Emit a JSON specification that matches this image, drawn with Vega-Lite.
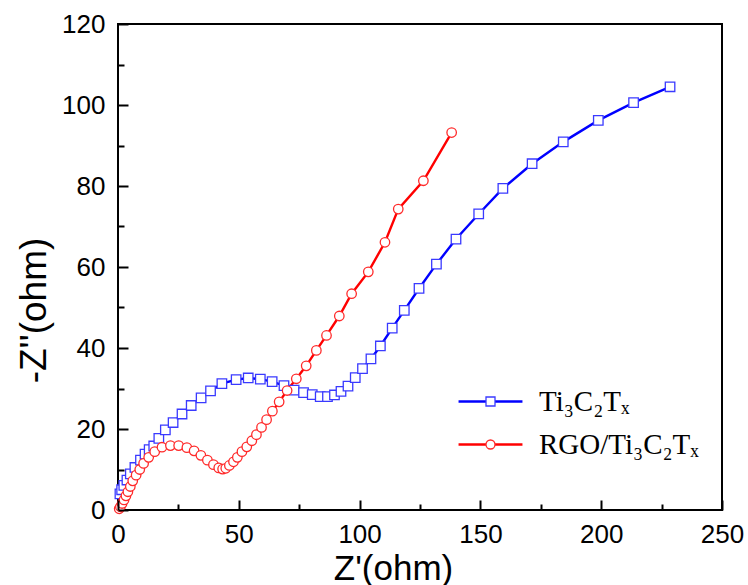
{
  "$schema": "https://vega.github.io/schema/vega-lite/v6.json",
  "width": 604,
  "height": 486,
  "autosize": {"type": "none"},
  "padding": {"left": 118, "top": 24, "right": 26, "bottom": 75},
  "background": "white",
  "config": {
    "view": {"stroke": "black", "strokeWidth": 2},
    "axis": {
      "grid": false,
      "domain": false,
      "ticks": true,
      "zindex": 1,
      "labelFont": "Liberation Sans",
      "labelFontSize": 26,
      "labelColor": "black",
      "titleFont": "Liberation Sans",
      "titleFontSize": 35,
      "titleFontWeight": "normal",
      "titleColor": "black",
      "tickColor": "black",
      "tickWidth": 2
    }
  },
  "data": {
    "values": [
      {"series": "Ti₃C₂Tₓ", "zr": 0.8, "zi": 4.0},
      {"series": "Ti₃C₂Tₓ", "zr": 1.5, "zi": 5.0},
      {"series": "Ti₃C₂Tₓ", "zr": 2.4, "zi": 6.1},
      {"series": "Ti₃C₂Tₓ", "zr": 3.7, "zi": 7.4},
      {"series": "Ti₃C₂Tₓ", "zr": 5.1, "zi": 8.9},
      {"series": "Ti₃C₂Tₓ", "zr": 7.0, "zi": 10.5},
      {"series": "Ti₃C₂Tₓ", "zr": 9.3, "zi": 12.3},
      {"series": "Ti₃C₂Tₓ", "zr": 11.2, "zi": 13.8},
      {"series": "Ti₃C₂Tₓ", "zr": 12.9, "zi": 14.9},
      {"series": "Ti₃C₂Tₓ", "zr": 14.8, "zi": 15.8},
      {"series": "Ti₃C₂Tₓ", "zr": 16.9, "zi": 17.7},
      {"series": "Ti₃C₂Tₓ", "zr": 19.6, "zi": 19.8},
      {"series": "Ti₃C₂Tₓ", "zr": 22.8, "zi": 21.6},
      {"series": "Ti₃C₂Tₓ", "zr": 26.5, "zi": 23.7},
      {"series": "Ti₃C₂Tₓ", "zr": 30.3, "zi": 25.8},
      {"series": "Ti₃C₂Tₓ", "zr": 34.4, "zi": 27.7},
      {"series": "Ti₃C₂Tₓ", "zr": 38.3, "zi": 29.4},
      {"series": "Ti₃C₂Tₓ", "zr": 43.0, "zi": 31.2},
      {"series": "Ti₃C₂Tₓ", "zr": 48.9, "zi": 32.2},
      {"series": "Ti₃C₂Tₓ", "zr": 53.9, "zi": 32.6},
      {"series": "Ti₃C₂Tₓ", "zr": 58.9, "zi": 32.3},
      {"series": "Ti₃C₂Tₓ", "zr": 63.8, "zi": 31.7},
      {"series": "Ti₃C₂Tₓ", "zr": 68.7, "zi": 30.7},
      {"series": "Ti₃C₂Tₓ", "zr": 72.9, "zi": 29.6},
      {"series": "Ti₃C₂Tₓ", "zr": 76.8, "zi": 29.0},
      {"series": "Ti₃C₂Tₓ", "zr": 80.4, "zi": 28.5},
      {"series": "Ti₃C₂Tₓ", "zr": 83.7, "zi": 28.0},
      {"series": "Ti₃C₂Tₓ", "zr": 86.7, "zi": 28.0},
      {"series": "Ti₃C₂Tₓ", "zr": 89.6, "zi": 28.4},
      {"series": "Ti₃C₂Tₓ", "zr": 92.3, "zi": 29.3},
      {"series": "Ti₃C₂Tₓ", "zr": 95.2, "zi": 30.6},
      {"series": "Ti₃C₂Tₓ", "zr": 98.2, "zi": 32.7},
      {"series": "Ti₃C₂Tₓ", "zr": 101.2, "zi": 34.9},
      {"series": "Ti₃C₂Tₓ", "zr": 104.7, "zi": 37.3},
      {"series": "Ti₃C₂Tₓ", "zr": 108.6, "zi": 40.5},
      {"series": "Ti₃C₂Tₓ", "zr": 113.5, "zi": 44.9},
      {"series": "Ti₃C₂Tₓ", "zr": 118.5, "zi": 49.3},
      {"series": "Ti₃C₂Tₓ", "zr": 124.6, "zi": 54.7},
      {"series": "Ti₃C₂Tₓ", "zr": 131.8, "zi": 60.7},
      {"series": "Ti₃C₂Tₓ", "zr": 139.9, "zi": 66.9},
      {"series": "Ti₃C₂Tₓ", "zr": 149.3, "zi": 73.1},
      {"series": "Ti₃C₂Tₓ", "zr": 159.3, "zi": 79.4},
      {"series": "Ti₃C₂Tₓ", "zr": 171.4, "zi": 85.5},
      {"series": "Ti₃C₂Tₓ", "zr": 184.3, "zi": 90.9},
      {"series": "Ti₃C₂Tₓ", "zr": 198.8, "zi": 96.2},
      {"series": "Ti₃C₂Tₓ", "zr": 213.4, "zi": 100.6},
      {"series": "Ti₃C₂Tₓ", "zr": 228.5, "zi": 104.5},
      {"series": "RGO/Ti₃C₂Tₓ", "zr": 0.5, "zi": 0.3},
      {"series": "RGO/Ti₃C₂Tₓ", "zr": 1.0, "zi": 0.8},
      {"series": "RGO/Ti₃C₂Tₓ", "zr": 1.7, "zi": 1.6},
      {"series": "RGO/Ti₃C₂Tₓ", "zr": 2.5, "zi": 2.5},
      {"series": "RGO/Ti₃C₂Tₓ", "zr": 3.3, "zi": 3.5},
      {"series": "RGO/Ti₃C₂Tₓ", "zr": 4.1, "zi": 4.5},
      {"series": "RGO/Ti₃C₂Tₓ", "zr": 5.1, "zi": 5.8},
      {"series": "RGO/Ti₃C₂Tₓ", "zr": 6.1, "zi": 7.2},
      {"series": "RGO/Ti₃C₂Tₓ", "zr": 7.5, "zi": 8.6},
      {"series": "RGO/Ti₃C₂Tₓ", "zr": 9.0, "zi": 10.0},
      {"series": "RGO/Ti₃C₂Tₓ", "zr": 10.6, "zi": 11.5},
      {"series": "RGO/Ti₃C₂Tₓ", "zr": 12.7, "zi": 13.0},
      {"series": "RGO/Ti₃C₂Tₓ", "zr": 15.2, "zi": 14.4},
      {"series": "RGO/Ti₃C₂Tₓ", "zr": 18.2, "zi": 15.5},
      {"series": "RGO/Ti₃C₂Tₓ", "zr": 21.7, "zi": 15.9},
      {"series": "RGO/Ti₃C₂Tₓ", "zr": 25.1, "zi": 15.9},
      {"series": "RGO/Ti₃C₂Tₓ", "zr": 28.5, "zi": 15.4},
      {"series": "RGO/Ti₃C₂Tₓ", "zr": 31.5, "zi": 14.6},
      {"series": "RGO/Ti₃C₂Tₓ", "zr": 34.3, "zi": 13.5},
      {"series": "RGO/Ti₃C₂Tₓ", "zr": 37.0, "zi": 12.3},
      {"series": "RGO/Ti₃C₂Tₓ", "zr": 39.5, "zi": 11.2},
      {"series": "RGO/Ti₃C₂Tₓ", "zr": 41.7, "zi": 10.4},
      {"series": "RGO/Ti₃C₂Tₓ", "zr": 43.3, "zi": 10.1},
      {"series": "RGO/Ti₃C₂Tₓ", "zr": 44.6, "zi": 10.3},
      {"series": "RGO/Ti₃C₂Tₓ", "zr": 46.1, "zi": 11.0},
      {"series": "RGO/Ti₃C₂Tₓ", "zr": 47.8, "zi": 11.9},
      {"series": "RGO/Ti₃C₂Tₓ", "zr": 49.4, "zi": 13.0},
      {"series": "RGO/Ti₃C₂Tₓ", "zr": 51.3, "zi": 14.4},
      {"series": "RGO/Ti₃C₂Tₓ", "zr": 53.3, "zi": 15.6},
      {"series": "RGO/Ti₃C₂Tₓ", "zr": 55.4, "zi": 17.1},
      {"series": "RGO/Ti₃C₂Tₓ", "zr": 57.3, "zi": 18.6},
      {"series": "RGO/Ti₃C₂Tₓ", "zr": 59.4, "zi": 20.4},
      {"series": "RGO/Ti₃C₂Tₓ", "zr": 61.5, "zi": 22.3},
      {"series": "RGO/Ti₃C₂Tₓ", "zr": 63.9, "zi": 24.4},
      {"series": "RGO/Ti₃C₂Tₓ", "zr": 66.7, "zi": 26.7},
      {"series": "RGO/Ti₃C₂Tₓ", "zr": 70.0, "zi": 29.5},
      {"series": "RGO/Ti₃C₂Tₓ", "zr": 73.8, "zi": 32.4},
      {"series": "RGO/Ti₃C₂Tₓ", "zr": 77.9, "zi": 35.6},
      {"series": "RGO/Ti₃C₂Tₓ", "zr": 82.1, "zi": 39.4},
      {"series": "RGO/Ti₃C₂Tₓ", "zr": 86.3, "zi": 43.1},
      {"series": "RGO/Ti₃C₂Tₓ", "zr": 91.6, "zi": 47.9},
      {"series": "RGO/Ti₃C₂Tₓ", "zr": 96.7, "zi": 53.4},
      {"series": "RGO/Ti₃C₂Tₓ", "zr": 103.6, "zi": 58.8},
      {"series": "RGO/Ti₃C₂Tₓ", "zr": 110.5, "zi": 66.1},
      {"series": "RGO/Ti₃C₂Tₓ", "zr": 116.0, "zi": 74.3},
      {"series": "RGO/Ti₃C₂Tₓ", "zr": 126.4, "zi": 81.3},
      {"series": "RGO/Ti₃C₂Tₓ", "zr": 138.1, "zi": 93.2}
    ]
  },
  "resolve": {"axis": {"x": "independent", "y": "independent"}},
  "layer": [
    {
      "mark": {"type": "line", "strokeWidth": 2.4},
      "encoding": {
        "x": {
          "field": "zr",
          "type": "quantitative",
          "title": "Z'(ohm)",
          "scale": {"domain": [0, 250], "nice": false, "zero": false},
          "axis": {
            "orient": "bottom",
            "values": [0, 50, 100, 150, 200, 250],
            "tickSize": 10,
            "offset": -10,
            "zindex": 1,
            "labelPadding": 11,
            "titlePadding": 4,
            "titleX": 275,
            "labelFlush": false
          }
        },
        "y": {
          "field": "zi",
          "type": "quantitative",
          "title": "-Z''(ohm)",
          "scale": {"domain": [0, 120], "nice": false, "zero": false},
          "axis": {
            "orient": "left",
            "values": [0, 20, 40, 60, 80, 100, 120],
            "tickSize": 10,
            "offset": -10,
            "zindex": 1,
            "labelPadding": 13,
            "titlePadding": 8,
            "titleY": 286,
            "titleFontSize": 37,
            "labelFlush": false
          }
        },
        "color": {
          "field": "series",
          "type": "nominal",
          "scale": {"domain": ["Ti₃C₂Tₓ", "RGO/Ti₃C₂Tₓ"], "range": ["#0000ff", "#ff0000"]},
          "legend": {
            "title": null,
            "orient": "none",
            "legendX": 358,
            "legendY": 363,
            "padding": 0,
            "symbolType": "M-7.1,0L7.1,0",
            "symbolSize": 81,
            "symbolStrokeWidth": 2.4,
            "labelFont": "Liberation Serif",
            "labelFontSize": 29,
            "labelColor": "black",
            "labelOffset": 34,
            "rowPadding": 13
          }
        }
      }
    },
    {
      "mark": {"type": "point", "filled": true, "fill": "white", "strokeWidth": 1.3, "size": 90, "opacity": 1},
      "encoding": {
        "x": {
          "field": "zr",
          "type": "quantitative",
          "title": null,
          "scale": {"domain": [0, 250], "nice": false, "zero": false},
          "axis": {
            "orient": "bottom",
            "values": [25, 75, 125, 175, 225],
            "labels": false,
            "tickSize": 6,
            "offset": -6,
            "zindex": 1
          }
        },
        "y": {
          "field": "zi",
          "type": "quantitative",
          "title": null,
          "scale": {"domain": [0, 120], "nice": false, "zero": false},
          "axis": {
            "orient": "left",
            "values": [10, 30, 50, 70, 90, 110],
            "labels": false,
            "tickSize": 6,
            "offset": -6,
            "zindex": 1
          }
        },
        "stroke": {
          "field": "series",
          "type": "nominal",
          "scale": {"domain": ["RGO/Ti₃C₂Tₓ", "Ti₃C₂Tₓ"], "range": ["#ff2a2a", "#3a3aff"]},
          "legend": {
            "title": null,
            "orient": "none",
            "legendX": 358,
            "legendY": 363,
            "padding": 0,
            "values": ["Ti₃C₂Tₓ", "RGO/Ti₃C₂Tₓ"],
            "symbolSize": 81,
            "symbolStrokeWidth": 1.3,
            "symbolFillColor": "white",
            "labelFont": "Liberation Serif",
            "labelFontSize": 29,
            "labelOpacity": 0,
            "labelOffset": 34,
            "rowPadding": 13
          }
        },
        "shape": {
          "field": "series",
          "type": "nominal",
          "scale": {"domain": ["RGO/Ti₃C₂Tₓ", "Ti₃C₂Tₓ"], "range": ["circle", "square"]},
          "legend": {
            "title": null,
            "orient": "none",
            "legendX": 358,
            "legendY": 363,
            "padding": 0,
            "values": ["Ti₃C₂Tₓ", "RGO/Ti₃C₂Tₓ"],
            "symbolSize": 81,
            "symbolStrokeWidth": 1.3,
            "symbolFillColor": "white",
            "labelFont": "Liberation Serif",
            "labelFontSize": 29,
            "labelOpacity": 0,
            "labelOffset": 34,
            "rowPadding": 13
          }
        }
      }
    }
  ]
}
